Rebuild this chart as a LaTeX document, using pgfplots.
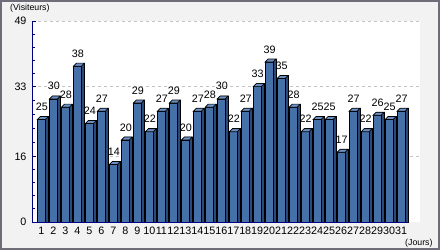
\documentclass[border=0pt]{standalone}
\usepackage{fontspec}
\setmainfont{Liberation Sans}
\usepackage{pgfplots}
\usepackage{pgfplotstable}
\pgfplotsset{compat=1.18}
\definecolor{barfront}{HTML}{4670A8}
\definecolor{barside}{HTML}{2C4A78}
\definecolor{bartopc}{HTML}{6A90C4}
\definecolor{axnavy}{HTML}{000080}
\definecolor{bgray}{HTML}{F2F2F2}
\definecolor{framec}{HTML}{6E6E7A}
\definecolor{gridc}{HTML}{C4C4C4}
\pgfdeclareplotmark{bartopface}{%
  \pgfpathmoveto{\pgfqpoint{-4bp}{0bp}}%
  \pgfpathlineto{\pgfqpoint{4bp}{0bp}}%
  \pgfpathlineto{\pgfqpoint{7bp}{3bp}}%
  \pgfpathlineto{\pgfqpoint{-1bp}{3bp}}%
  \pgfpathclose
  \pgfusepathqfillstroke
}
\pgfplotstableread{
day v
1 25
2 30
3 28
4 38
5 24
6 27
7 14
8 20
9 29
10 22
11 27
12 29
13 20
14 27
15 28
16 30
17 22
18 27
19 33
20 39
21 35
22 28
23 22
24 25
25 25
26 17
27 27
28 22
29 26
30 25
31 27
}\visits
\newcommand{\lblfont}{\fontsize{10.8}{12}\selectfont}
\newcommand{\ttlfont}{\fontsize{8.8}{10}\selectfont}
\begin{document}
\begin{tikzpicture}
\fill[framec] (-32bp,-28bp) rectangle (408bp,222bp);
\fill[bgray] (-30bp,-26bp) rectangle (406bp,220bp);
\begin{axis}[
  at={(0,0)}, anchor=south west,
  scale only axis, width=388bp, height=201bp,
  xmin=0.21, xmax=32.58, ymin=0, ymax=49,
  axis background/.style={fill=white},
  axis lines*=left,
  x axis line style={draw=none},
  y axis line style={draw=axnavy, line width=0.9bp},
  xtick={1,...,31},
  xtick style={draw=none},
  ytick={16,33,49},
  extra y ticks={0},
  extra y tick style={grid=none},
  minor ytick={3.2,6.4,9.6,12.8,19.4,22.8,26.2,29.6,36.2,39.4,42.6,45.8},
  ymajorgrids=true,
  major grid style={draw=gridc, dash pattern=on 3bp off 3bp, line width=0.8bp},
  y tick style={draw=axnavy, line width=0.9bp},
  tick align=inside,
  major tick length=4bp,
  minor tick length=3bp,
  /pgf/number format/assume math mode=true,
  ticklabel style={font=\lblfont, text=black},
  yticklabel style={xshift=-2bp},
  xticklabel style={inner sep=1.5bp, yshift=-3bp},
  clip=false,
]
\addplot[ybar, bar width=8bp, bar shift=3bp, fill=barside, draw=black, line width=0.7bp]
  table[x=day, y expr=\thisrow{v}+0.73] {\visits};
\addplot[ybar, bar width=8bp, bar shift=0bp, fill=barfront, draw=black, line width=0.7bp]
  table[x=day, y=v] {\visits};
\addplot[only marks, mark=bartopface,
  mark options={fill=bartopc, draw=black, line width=0.7bp},
  nodes near coords,
  every node near coord/.append style={anchor=south, yshift=7.5bp, xshift=0.5bp, font=\lblfont, text=black, inner sep=1bp}]
  table[x=day, y=v] {\visits};
\draw[axnavy, line width=0.9bp] (axis cs:0.21,0) -- (axis cs:31.58,0);
\end{axis}
\node[anchor=base west, inner sep=0pt, font=\ttlfont] at (-22bp,211bp) {(Visiteurs)};
\node[anchor=base west, inner sep=0pt, font=\ttlfont] at (373bp,-23bp) {(Jours)};
\pgfresetboundingbox
\path (-32bp,-28bp) rectangle (408bp,222bp);
\end{tikzpicture}
\end{document}
